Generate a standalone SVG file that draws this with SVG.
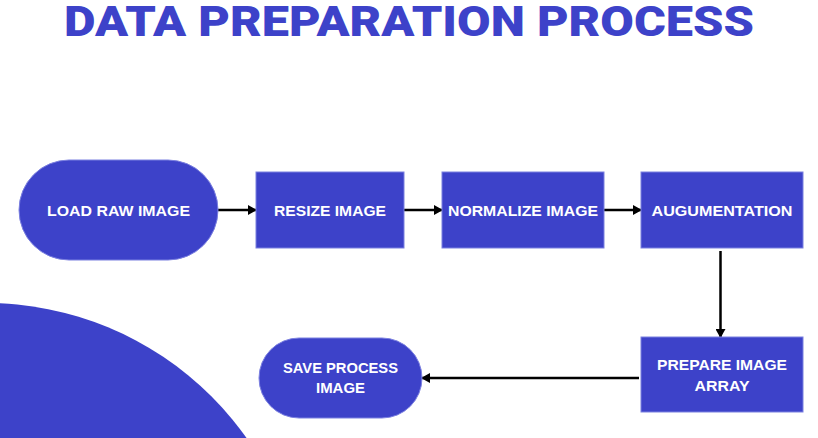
<svg xmlns="http://www.w3.org/2000/svg" width="818" height="438" viewBox="0 0 818 438">
<defs>
<marker id="ah" markerWidth="10" markerHeight="10" refX="8" refY="5" orient="auto" markerUnits="userSpaceOnUse">
<path d="M0,0 L9,5 L0,10 Z" fill="#000"/>
</marker>
<style>
.node{fill:#3d42c9;stroke:#7b80e0;stroke-width:1}
.lbl{font-family:"Liberation Sans",Arial,sans-serif;font-weight:bold;font-size:15px;fill:#fff;text-anchor:middle}
.title{font-family:Roboto,"Liberation Sans",sans-serif;font-weight:900;font-size:42px;fill:#3d42c9;text-anchor:middle}
.conn{stroke:#000;stroke-width:2.5;fill:none;marker-end:url(#ah)}
</style>
</defs>
<rect width="818" height="438" fill="#fff"/>
<circle cx="-14" cy="622" r="319" fill="#3d42c9"/>
<text class="title" x="409" y="36" textLength="690" lengthAdjust="spacingAndGlyphs">DATA PREPARATION PROCESS</text>
<g id="connectors">
<line class="conn" x1="218" y1="210" x2="256" y2="210"/>
<line class="conn" x1="404" y1="210" x2="442" y2="210"/>
<line class="conn" x1="604" y1="210" x2="641" y2="210"/>
<line class="conn" x1="720.5" y1="251" x2="720.5" y2="337"/>
<line class="conn" x1="639" y1="378" x2="422" y2="378"/>
</g>
<g id="load">
<rect class="node" x="19" y="160" width="199" height="100" rx="50"/>
<text class="lbl" x="118.5" y="216" textLength="143" lengthAdjust="spacingAndGlyphs">LOAD RAW IMAGE</text>
</g>
<g id="resize">
<rect class="node" x="256" y="172" width="148" height="76"/>
<text class="lbl" x="330" y="216" textLength="112" lengthAdjust="spacingAndGlyphs">RESIZE IMAGE</text>
</g>
<g id="normalize">
<rect class="node" x="442" y="172" width="162" height="76"/>
<text class="lbl" x="523" y="216" textLength="150" lengthAdjust="spacingAndGlyphs">NORMALIZE IMAGE</text>
</g>
<g id="augmentation">
<rect class="node" x="641" y="172" width="162" height="76"/>
<text class="lbl" x="722" y="216" textLength="141" lengthAdjust="spacingAndGlyphs">AUGUMENTATION</text>
</g>
<g id="prepare">
<rect class="node" x="641" y="337" width="162" height="75"/>
<text class="lbl" x="722" y="370" textLength="130" lengthAdjust="spacingAndGlyphs">PREPARE IMAGE</text>
<text class="lbl" x="722" y="391" textLength="55" lengthAdjust="spacingAndGlyphs">ARRAY</text>
</g>
<g id="save">
<rect class="node" x="259" y="338" width="163" height="80" rx="40"/>
<text class="lbl" x="340.5" y="373" textLength="115" lengthAdjust="spacingAndGlyphs">SAVE PROCESS</text>
<text class="lbl" x="340.5" y="393" textLength="49" lengthAdjust="spacingAndGlyphs">IMAGE</text>
</g>
</svg>
